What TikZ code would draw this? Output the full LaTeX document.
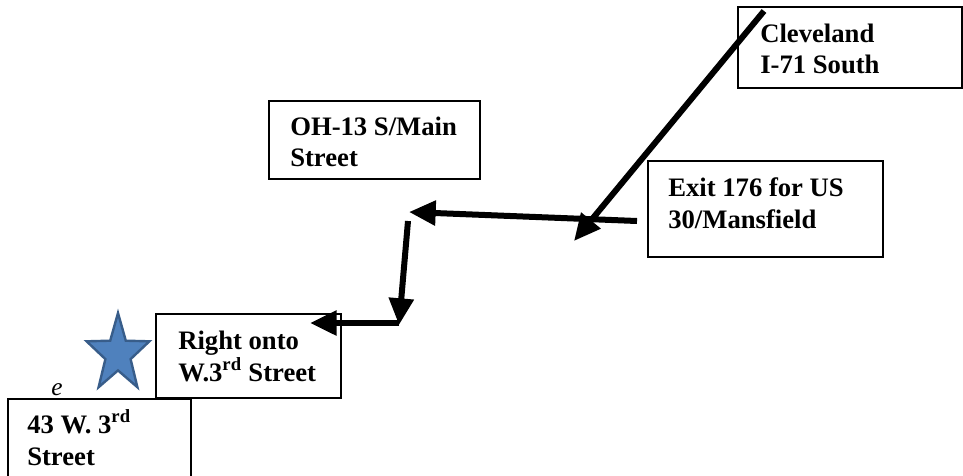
\documentclass[tikz,border=0pt]{standalone}
\usepackage{fontspec}
\setmainfont{Liberation Serif}
\usetikzlibrary{arrows.meta}
\definecolor{starfill}{HTML}{4F81BD}
\definecolor{starline}{HTML}{385D8A}
\tikzset{
  box/.style={draw=black, line width=0.8pt, inner sep=0pt},
  label/.style={anchor=base west, inner sep=0pt, font=\fontsize{20}{24}\selectfont\bfseries},
  route/.style={line width=4.5pt, -{Triangle[length=20pt,width=18pt]}}
}
\begin{document}
\begin{tikzpicture}[x=0.75pt,y=-0.75pt]
\useasboundingbox (0,0) rectangle (963,475);
% boxes
\node[box, minimum width=168pt, minimum height=60.75pt] (cle) at (850,47.5) {};
\node[box, minimum width=176.25pt, minimum height=72pt] (exit) at (765.5,209) {};
\node[box, minimum width=158.25pt, minimum height=58.5pt] (oh) at (374.5,140) {};
\node[box, minimum width=138.75pt, minimum height=63pt] (right) at (248.5,356) {};
\node[box, minimum width=137.25pt, minimum height=63pt] (dest) at (99.5,441) {};
% texts
\node[label] (tclea) at (760,42) {Cleveland};
\node[label] (tcleb) at (760,73) {I-71 South};
\node[label] (texita) at (668,196) {Exit 176 for US};
\node[label] (texitb) at (668,228) {30/Mansfield};
\node[label] (toha) at (290,135) {OH-13 S/Main};
\node[label] (tohb) at (290,166) {Street};
\node[label] (trighta) at (178,349) {Right onto};
\node[label] (trightb) at (178,381) {W.3\textsuperscript{rd} Street};
\node[label] (tdesta) at (27,433) {43 W. 3\textsuperscript{rd}};
\node[label] (tdestb) at (27,465) {Street};
\node[font=\fontsize{19}{21}\selectfont\itshape, inner sep=0pt, anchor=base] (e) at (57,395) {e};
% star
\draw[fill=starfill, draw=starline, line width=1.8pt, line join=miter]
  (118,313) -- (125.8,340.7) -- (149.4,341.3) -- (130.6,359.1) -- (137.4,387.2)
  -- (118,370.4) -- (98.6,387.2) -- (105.4,359.1) -- (86.6,341.3) -- (110.2,340.7) -- cycle;
% route
\coordinate (a1s) at (764,11);
\coordinate (a1e) at (574,241);
\coordinate (a2s) at (637,221);
\coordinate (a2e) at (409,212);
\coordinate (a3s) at (408,221);
\coordinate (a3e) at (399,325);
\coordinate (a4s) at (399,323);
\coordinate (a4e) at (310,323);
\draw[route] (a1s) -- (a1e);
\draw[route] (a2s) -- (a2e);
\draw[route] (a3s) -- (a3e);
\draw[route] (a4s) -- (a4e);
\end{tikzpicture}
\end{document}
